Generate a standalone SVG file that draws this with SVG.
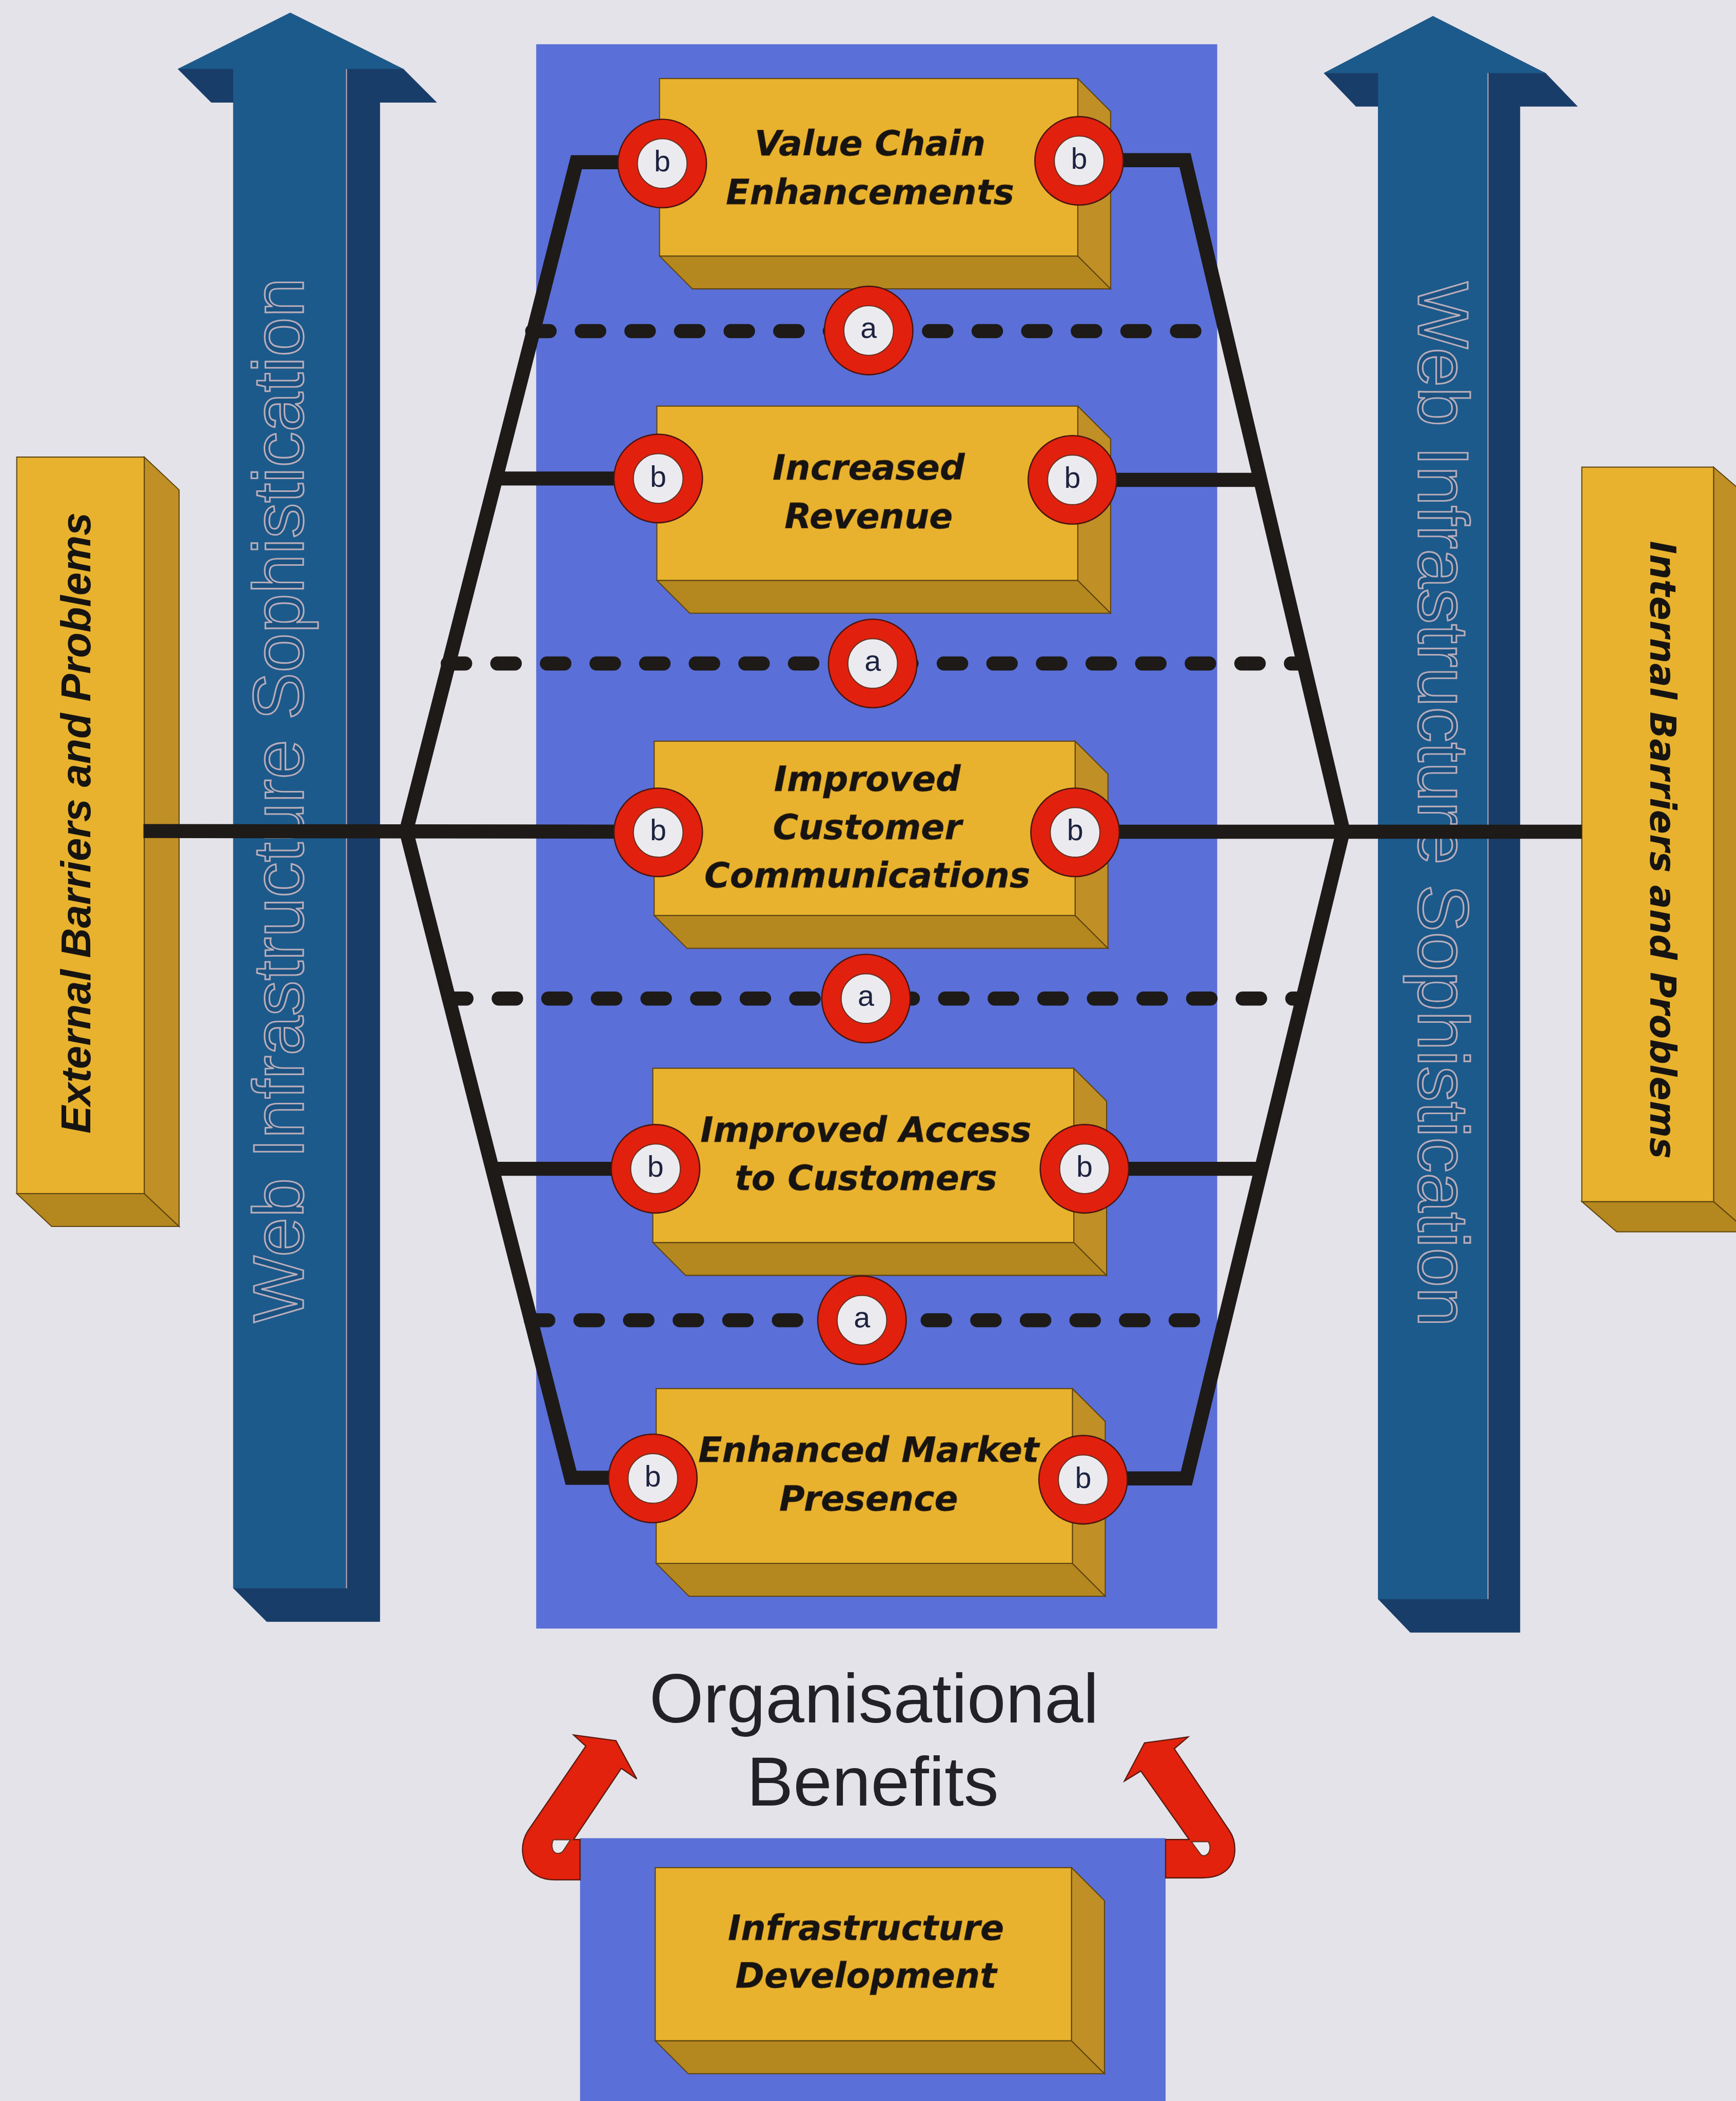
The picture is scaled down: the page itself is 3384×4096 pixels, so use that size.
<svg xmlns="http://www.w3.org/2000/svg" width="3384" height="4096" viewBox="0 0 3384 4096">
<defs>
<style>
.lbl{font-family:"DejaVu Sans",Verdana,sans-serif;font-weight:bold;font-style:oblique;font-size:26px;fill:#161412;stroke:#5a3a10;stroke-width:0.3px;text-anchor:middle}
.web{font-family:"Liberation Sans",Arial,sans-serif;font-size:53px;fill:#1a5282;stroke:#b9adba;stroke-width:1.2px;text-anchor:middle}
.ext{font-family:"Liberation Sans",Arial,sans-serif;font-weight:bold;font-style:italic;font-size:31px;fill:#161412;text-anchor:middle}
.int{font-family:"DejaVu Sans",Verdana,sans-serif;font-weight:bold;font-style:oblique;font-size:26.5px;fill:#161412;text-anchor:middle}
.ob{font-family:"Liberation Sans",Arial,sans-serif;font-size:52px;fill:#222226;text-anchor:middle}
.ltr{font-family:"Liberation Sans",Arial,sans-serif;font-size:22px;fill:#1d2240;text-anchor:middle}
.front{fill:#e8b22e;stroke:#5e4510;stroke-width:0.8px}
.bot{fill:#b4871f;stroke:#5e4510;stroke-width:0.8px}
.side{fill:#c08f26;stroke:#5e4510;stroke-width:0.8px}
.afront{fill:#1c5a8b}
.aside{fill:#193d69}
.ln{fill:none;stroke:#1d1a18;stroke-width:10.5px;stroke-linejoin:miter}
.dash{fill:none;stroke:#1d1a18;stroke-width:10.5px;stroke-dasharray:13 24;stroke-linecap:round}
.ring{fill:#e2200e;stroke:#4a1510;stroke-width:1px}
.hole{fill:#ebebef;stroke:#6a3020;stroke-width:0.8px}
.red{fill:#e2220c;stroke:#5a1a10;stroke-width:0.9px;stroke-linejoin:miter}
.panel{fill:#5a6fd7}
</style>
</defs>
<rect width="3384" height="4096" fill="#e4e3e9"/>
<g transform="scale(2.6131)">

<g id="arrow-left">
<polygon class="aside" points="216.5,9.5 301,51.5 326,76.5 283.5,76.5 283.5,1210 199,1210 174,1185 174,76.5 157.6,76.5 132.6,51.5"/>
<polygon class="afront" points="216.5,9.5 301,51.5 258.5,51.5 258.5,1185 174,1185 174,51.5 132.6,51.5"/>
<path d="M258.5,51.5 V1185" stroke="#c9b4bc" stroke-width="0.7" fill="none"/>
<text class="web" transform="translate(226,597) rotate(-90)">Web Infrastructure Sophistication</text>
</g>

<g id="arrow-right">
<polygon class="aside" points="1069,12 1153,54.5 1177,79.5 1134,79.5 1134,1218 1052,1218 1028,1193 1028,79.5 1011.5,79.5 987.5,54.5"/>
<polygon class="afront" points="1069,12 1153,54.5 1110,54.5 1110,1193 1028,1193 1028,54.5 987.5,54.5"/>
<path d="M1110,54.5 V1193" stroke="#c9b4bc" stroke-width="0.7" fill="none"/>
<text class="web" transform="translate(1058,600) rotate(90)">Web Infrastructure Sophistication</text>
</g>

<g id="external-barriers">
<polygon class="bot" points="12.5,890.5 107.6,890.5 133.6,915 38.5,915"/>
<polygon class="side" points="107.6,341 133.6,365.5 133.6,915 107.6,890.5"/>
<rect class="front" x="12.5" y="341" width="95.1" height="549.5"/>
<text class="ext" transform="translate(67.4,614) rotate(-90)">External Barriers and Problems</text>
</g>

<g id="internal-barriers">
<polygon class="bot" points="1180,896.5 1278.3,896.5 1304.3,919 1206,919"/>
<polygon class="side" points="1278.3,348.5 1304.3,371 1304.3,919 1278.3,896.5"/>
<rect class="front" x="1180" y="348.5" width="98.3" height="548"/>
<text class="int" transform="translate(1231,634) rotate(90)">Internal Barriers and Problems</text>
</g>

<g id="benefits-panel">
<rect class="panel" x="400" y="33" width="508" height="1182"/>
</g>

<g id="value-chain">
<polygon class="bot" points="492,191 804,191 828.5,215.5 516.5,215.5"/>
<polygon class="side" points="804,58.6 828.5,83.1 828.5,215.5 804,191"/>
<rect class="front" x="492" y="58.6" width="312" height="132.4"/>
<text class="lbl" x="649" y="116">Value Chain</text>
<text class="lbl" x="649" y="152.4">Enhancements</text>
</g>

<g id="increased-revenue">
<polygon class="bot" points="490,433 804,433 828.5,457.5 514.5,457.5"/>
<polygon class="side" points="804,303 828.5,327.5 828.5,457.5 804,433"/>
<rect class="front" x="490" y="303" width="314" height="130"/>
<text class="lbl" x="648" y="358">Increased</text>
<text class="lbl" x="648" y="394">Revenue</text>
</g>

<g id="customer-communications">
<polygon class="bot" points="488,683 802,683 826.5,707.5 512.5,707.5"/>
<polygon class="side" points="802,553 826.5,577.5 826.5,707.5 802,683"/>
<rect class="front" x="488" y="553" width="314" height="130"/>
<text class="lbl" x="647" y="590">Improved</text>
<text class="lbl" x="647" y="626">Customer</text>
<text class="lbl" x="647" y="662">Communications</text>
</g>

<g id="access-to-customers">
<polygon class="bot" points="487,927 801,927 825.5,951.5 511.5,951.5"/>
<polygon class="side" points="801,797 825.5,821.5 825.5,951.5 801,927"/>
<rect class="front" x="487" y="797" width="314" height="130"/>
<text class="lbl" x="646" y="852">Improved Access</text>
<text class="lbl" x="646" y="888">to Customers</text>
</g>

<g id="market-presence">
<polygon class="bot" points="489.5,1166.4 800,1166.4 824.5,1190.9 514,1190.9"/>
<polygon class="side" points="800,1036 824.5,1060.5 824.5,1190.9 800,1166.4"/>
<rect class="front" x="489.5" y="1036" width="310.5" height="130.4"/>
<text class="lbl" x="648" y="1090.6">Enhanced Market</text>
<text class="lbl" x="648" y="1127">Presence</text>
</g>

<g id="organisational-benefits">
<text class="ob" x="652" y="1285">Organisational</text>
<text class="ob" x="651" y="1347">Benefits</text>
</g>

<g id="infrastructure-development">
<rect class="panel" x="432.7" y="1371.4" width="436.8" height="210"/>
<polygon class="bot" points="488.8,1522.5 799.3,1522.5 823.9,1547.1 513.4,1547.1"/>
<polygon class="side" points="799.3,1393.4 823.9,1418 823.9,1547.1 799.3,1522.5"/>
<rect class="front" x="488.8" y="1393.4" width="310.5" height="129.1"/>
<text class="lbl" x="646" y="1447.4">Infrastructure</text>
<text class="lbl" x="646" y="1482.8">Development</text>
</g>

<g id="connectors">
<path class="ln" d="M494,121 L430,121 L303,620 L426,1102.5 L487,1102.5"/>
<path class="ln" d="M805,119.5 L884,119.5 L1002,620 L885,1103 L808,1103"/>
<path class="ln" d="M369,357 L491,357 M800,358 L940,358"/>
<path class="ln" d="M107,620 L491,620.5 M802,620.5 L1180,620.5"/>
<path class="ln" d="M367.5,872 L489,872 M809,872 L940.6,872"/>
<path class="dash" d="M397,247 H914"/>
<path class="dash" d="M334,495 H972"/>
<path class="dash" d="M335,745 H971"/>
<path class="dash" d="M396,985 H913"/>

<g id="marker-a1"><circle class="ring" cx="648" cy="246.6" r="33"/><circle class="hole" cx="648" cy="246.6" r="18.5"/><text class="ltr" x="648" y="252.1">a</text></g>
<g id="marker-a2"><circle class="ring" cx="651" cy="495" r="33"/><circle class="hole" cx="651" cy="495" r="18.5"/><text class="ltr" x="651" y="500.5">a</text></g>
<g id="marker-a3"><circle class="ring" cx="646" cy="745" r="33"/><circle class="hole" cx="646" cy="745" r="18.5"/><text class="ltr" x="646" y="750.5">a</text></g>
<g id="marker-a4"><circle class="ring" cx="643" cy="985" r="33"/><circle class="hole" cx="643" cy="985" r="18.5"/><text class="ltr" x="643" y="990.5">a</text></g>

<g id="markers-b">
<circle class="ring" cx="494" cy="122" r="33"/><circle class="hole" cx="494" cy="122" r="18.5"/><text class="ltr" x="494" y="128">b</text>
<circle class="ring" cx="805" cy="120" r="33"/><circle class="hole" cx="805" cy="120" r="18.5"/><text class="ltr" x="805" y="126">b</text>
<circle class="ring" cx="491" cy="357" r="33"/><circle class="hole" cx="491" cy="357" r="18.5"/><text class="ltr" x="491" y="363">b</text>
<circle class="ring" cx="800" cy="358" r="33"/><circle class="hole" cx="800" cy="358" r="18.5"/><text class="ltr" x="800" y="364">b</text>
<circle class="ring" cx="491" cy="621" r="33"/><circle class="hole" cx="491" cy="621" r="18.5"/><text class="ltr" x="491" y="627">b</text>
<circle class="ring" cx="802" cy="621" r="33"/><circle class="hole" cx="802" cy="621" r="18.5"/><text class="ltr" x="802" y="627">b</text>
<circle class="ring" cx="489" cy="872" r="33"/><circle class="hole" cx="489" cy="872" r="18.5"/><text class="ltr" x="489" y="878">b</text>
<circle class="ring" cx="809" cy="872" r="33"/><circle class="hole" cx="809" cy="872" r="18.5"/><text class="ltr" x="809" y="878">b</text>
<circle class="ring" cx="487" cy="1103" r="33"/><circle class="hole" cx="487" cy="1103" r="18.5"/><text class="ltr" x="487" y="1109">b</text>
<circle class="ring" cx="808" cy="1104" r="33"/><circle class="hole" cx="808" cy="1104" r="18.5"/><text class="ltr" x="808" y="1110">b</text>
</g>

<g id="benefit-arrows">
<path class="red" d="M432.7,1372.4 L427.9,1372.4 L463.5,1319.3 L475,1327.2 L459.5,1298.7 L427.9,1294.4 L437,1302.7 L393.8,1366 C387.5,1376 388,1392 400,1399 C404,1401.5 408,1402.5 414,1402.5 L432.7,1402.5 Z"/>
<path class="hole" d="M412.8,1372.6 L425.5,1372.6 L420.5,1380.3 C418.5,1383.6 414,1383.6 412.4,1380.2 C411.4,1377.8 411.6,1374.6 412.8,1372.6 Z"/>
<path class="red" d="M869.5,1372.4 L887.1,1372.4 L851,1321.3 L838.8,1328.8 L853.8,1300.3 L886.3,1295.9 L876,1304.7 L917.2,1366 C922,1373 924,1388 914,1396 C909,1400 903,1401 897,1401 L869.5,1401 Z"/>
<path class="hole" d="M888.7,1374 L901.2,1374 C903.5,1377 903,1382.5 899.5,1384.2 C897.5,1385 896,1384 895.3,1383 Z"/>
</g>
</g>

</g>
</svg>
